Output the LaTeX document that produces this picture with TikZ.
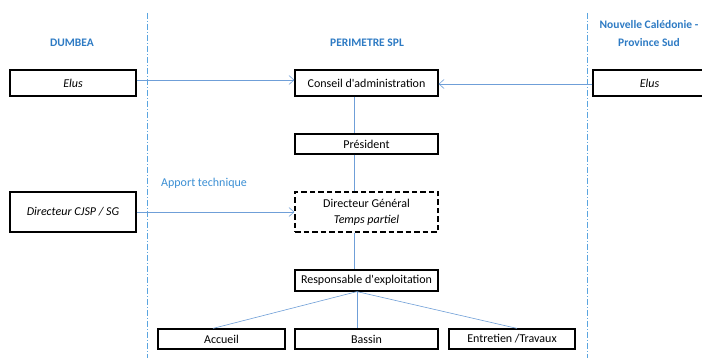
\documentclass[tikz,border=0pt]{standalone}
\usepackage{fontspec}
\setmainfont{Carlito}
\usetikzlibrary{arrows.meta}
\definecolor{hdr}{HTML}{2E7BC4}
\definecolor{lnk}{HTML}{6F9FD8}
\definecolor{sep}{HTML}{5AA5E0}
\definecolor{apt}{HTML}{3B8FD4}
\begin{document}
\begin{tikzpicture}[x=1pt,y=-1pt,
  box/.style={draw=black,line width=1.2pt,fill=white,inner sep=0pt,align=center,font=\fontsize{12}{14}\selectfont},
  dbox/.style={box,dashed,dash pattern=on 5.5pt off 3pt},
  hd/.style={text=hdr,font=\fontsize{11.5}{18}\selectfont\bfseries,align=center},
  lk/.style={draw=lnk,line width=0.6pt},
  arr/.style={lk,-{Straight Barb[length=5pt,width=9pt,line width=0.6pt]}},
  sepl/.style={draw=sep,line width=0.6pt,dash pattern=on 6pt off 2pt on 1pt off 2pt}]
\useasboundingbox (0,0) rectangle (702,358);
\fill[white] (0,0) rectangle (702,358);
% separators
\coordinate (s1t) at (147,13); \coordinate (s1b) at (147,358);
\coordinate (s2t) at (587,13); \coordinate (s2b) at (587,358);
\draw[sepl] (s1t) -- (s1b);
\draw[sepl] (s2t) -- (s2b);
% headers
\node[hd] (hdumbea) at (72,43) {DUMBEA};
\node[hd] (hspl) at (367,43) {PERIMETRE SPL};
\node[hd] (hnc) at (649,33.5) {Nouvelle Calédonie -\\Province Sud};
% boxes
\node[box,minimum width=126,minimum height=26] (elusL) at (73,83) {\itshape Elus};
\node[box,minimum width=143,minimum height=26] (conseil) at (366.5,83) {Conseil d\textquotesingle administration};
\node[box,minimum width=113,minimum height=26] (elusR) at (649.5,83) {\itshape Elus};
\node[box,minimum width=143,minimum height=20] (president) at (366.5,144) {Président};
\node[dbox,minimum width=143,minimum height=40] (dg) at (366.5,212) {Directeur Général\\[2pt]\itshape Temps partiel};
\node[box,minimum width=126,minimum height=40] (cjsp) at (73,212) {\itshape Directeur CJSP / SG};
\node[box,minimum width=143,minimum height=21] (resp) at (366.5,280.5) {Responsable d\textquotesingle exploitation};
\node[box,minimum width=127,minimum height=20] (accueil) at (221.5,339) {Accueil};
\node[box,minimum width=143,minimum height=20] (bassin) at (366.5,339) {Bassin};
\node[box,minimum width=126,minimum height=20] (entretien) at (512,339) {Entretien /Travaux};
\node[text=apt,font=\fontsize{12}{14}\selectfont,anchor=west,inner sep=0pt] (apport) at (161,183) {Apport technique};
% connectors
\coordinate (vx) at (354,0);
\coordinate (bx) at (357,0);
\draw[arr] ([yshift=3pt]elusL.east) -- ([yshift=3pt]conseil.west);
\draw[arr] ([yshift=-1pt]elusR.west) -- ([yshift=-1pt]conseil.east);
\draw[arr] (cjsp.east) -- (dg.west);
\draw[lk] (conseil.south -| vx) -- (president.north -| vx);
\draw[lk] (president.south -| vx) -- (dg.north -| vx);
\draw[lk] (dg.south -| vx) -- (resp.north -| vx);
\draw[lk] (resp.south -| bx) -- ([xshift=-8.5pt]accueil.north);
\draw[lk] (resp.south -| bx) -- (bassin.north -| bx);
\draw[lk] (resp.south -| bx) -- ([xshift=5pt]entretien.north);
\end{tikzpicture}
\end{document}
